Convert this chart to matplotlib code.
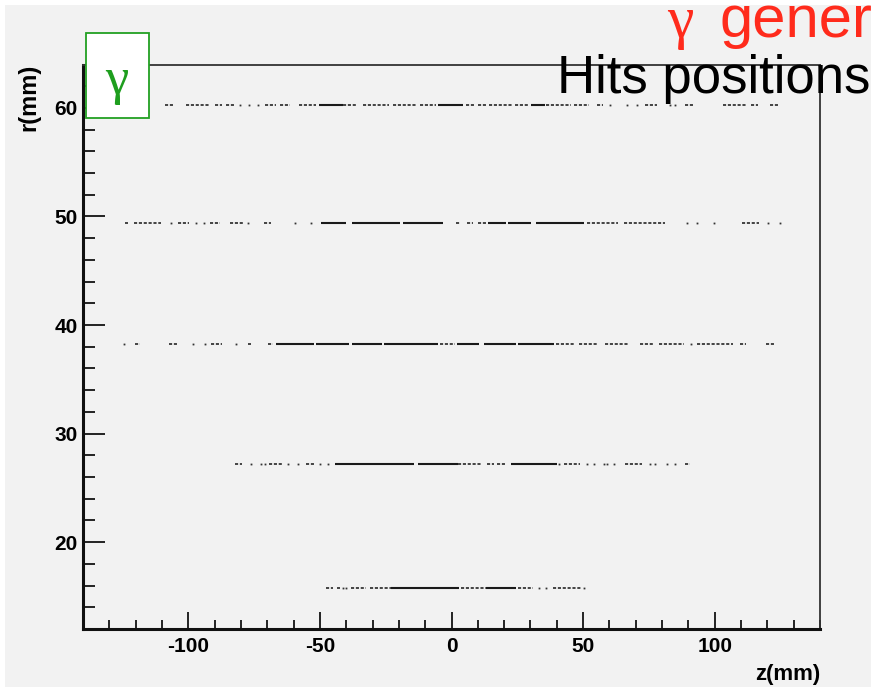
import numpy as np
import matplotlib
matplotlib.use("Agg")
import matplotlib.pyplot as plt
from matplotlib.patches import Rectangle
from matplotlib.ticker import MultipleLocator

plt.rcParams['font.family'] = ['Liberation Sans', 'DejaVu Sans']
plt.rcParams['axes.unicode_minus'] = False

# radius of each silicon layer (mm)
layer_r = [60.3, 49.4, 38.25, 27.2, 15.8]

# hits along z (mm): dense runs, sparse runs, single hits
layer1_dense = [(-50.5, -41.4), (-5.3, 4.5), (30.2, 35.5)]
layer1_sparse = [(-108.7, -105.9), (-100.8, -91.7), (-89.8, -87.1), (-85.6, -82.6),
                 (-71.0, -66.5), (-65.2, -61.4), (-58.1, -51.3), (-41.4, -36.0),
                 (-33.7, -23.9), (-22.3, -13.3), (-12.1, -5.7), (5.5, 8.9),
                 (10.2, 13.3), (14.4, 23.3), (24.2, 29.4), (36.0, 45.5),
                 (46.6, 52.3), (55.3, 57.6), (73.5, 78.0), (88.6, 91.7),
                 (103.2, 112.4), (113.9, 116.4), (121.0, 124.5)]
layer1_dots = [-80.3, -76.9, -73.5, 60.1, 66.7, 70.5, 83.0, 85.0]

layer2_dense = [(-49.4, -40.0), (-37.7, -19.7), (-18.6, -3.1), (14.0, 20.8),
                (21.6, 30.2), (32.2, 50.4)]
layer2_sparse = [(-124.1, -123.0), (-120.8, -110.2), (-103.8, -99.7), (-91.7, -88.0),
                 (-84.3, -79.4), (-71.3, -68.6), (1.7, 3.4), (5.7, 8.3),
                 (10.2, 13.1), (51.5, 63.4), (65.4, 81.3), (110.5, 117.0)]
layer2_dots = [-106.7, -97.0, -94.1, -77.5, -59.5, -53.4, 89.4, 93.2, 99.6, 120.3, 124.8]

layer3_dense = [(-66.5, -52.4), (-51.5, -39.0), (-37.9, -26.5), (-25.7, -16.3),
                (-16.3, -5.1), (1.9, 10.6), (12.4, 24.5), (25.4, 39.0)]
layer3_sparse = [(-120.4, -118.3), (-107.4, -104.2), (-91.3, -87.1), (-77.5, -76.3),
                 (-69.8, -67.8), (-4.3, 1.5), (39.6, 46.4), (48.5, 55.3),
                 (58.5, 67.4), (71.8, 77.1), (78.8, 88.4), (93.3, 107.1),
                 (109.5, 111.9), (119.5, 122.9)]
layer3_dots = [-124.4, -98.2, -93.7, -81.8, 90.9]

layer4_dense = [(-44.4, -14.1), (-12.9, 2.3), (22.5, 40.2)]
layer4_sparse = [(-82.1, -79.5), (-69.4, -64.0), (-55.2, -52.0), (2.3, 11.1),
                 (13.6, 16.2), (17.4, 20.6), (42.7, 49.0), (66.0, 72.3), (88.8, 90.6)]
layer4_dots = [-76.3, -72.2, -70.9, -62.1, -58.3, -50.1, -47.0, 40.8, 51.5, 54.0,
               57.8, 59.1, 61.6, 75.5, 77.4, 81.8, 85.0]

layer5_dense = [(-22.8, 3.0), (13.1, 24.5)]
layer5_sparse = [(-47.7, -45.0), (-43.4, -42.2), (-38.0, -32.3), (-31.1, -22.8),
                 (3.7, 13.1), (25.1, 30.8), (38.4, 49.7)]
layer5_dots = [-41.2, -39.9, 33.3, 35.9, 50.4]

dense = [layer1_dense, layer2_dense, layer3_dense, layer4_dense, layer5_dense]
sparse = [layer1_sparse, layer2_sparse, layer3_sparse, layer4_sparse, layer5_sparse]
dots = [layer1_dots, layer2_dots, layer3_dots, layer4_dots, layer5_dots]

W, H = 871, 691
bg = '#f2f2f2'

fig = plt.figure(figsize=(W / 100, H / 100), dpi=100)
fig.patch.set_facecolor('white')
fig.patches.append(Rectangle((5 / W, 4 / H), 1 - 5 / W, 1 - 9 / H,
                             transform=fig.transFigure, facecolor=bg,
                             edgecolor='none', zorder=-10))

ax = fig.add_axes([83 / W, 1 - 629 / H, (820 - 83) / W, (629 - 64.5) / H])
ax.set_facecolor(bg)

for r, dn, sp, dt in zip(layer_r, dense, sparse, dots):
    for z0, z1 in sp:
        ax.plot([z0, z1], [r, r], color='#444444', lw=1.4,
                linestyle=(0, (1.6, 0.9)), solid_capstyle='butt')
    for z0, z1 in dn:
        ax.plot([z0, z1], [r, r], color='#1a1a1a', lw=1.5, solid_capstyle='butt')
    ax.plot(dt, [r] * len(dt), 's', color='#333333', ms=1.3, mew=0)

ax.set_xlim(-140, 140)
ax.set_ylim(12, 64)
ax.xaxis.set_major_locator(MultipleLocator(50))
ax.xaxis.set_minor_locator(MultipleLocator(10))
ax.yaxis.set_major_locator(MultipleLocator(10))
ax.yaxis.set_minor_locator(MultipleLocator(2))

ax.tick_params(axis='x', which='major', direction='in', length=12, width=1.2,
               pad=6, labelsize=15)
ax.tick_params(axis='x', which='minor', direction='in', length=6.3, width=1.2)
ax.tick_params(axis='y', which='major', direction='in', length=16, width=1.2,
               pad=4, labelsize=15)
ax.tick_params(axis='y', which='minor', direction='in', length=8.6, width=1.2)
for lab in ax.get_xticklabels() + ax.get_yticklabels():
    lab.set_fontweight('bold')

for s in ['left', 'bottom']:
    ax.spines[s].set_linewidth(2.2)
    ax.spines[s].set_color('#111111')
for s in ['top', 'right']:
    ax.spines[s].set_linewidth(1.3)
    ax.spines[s].set_color('#333333')

fig.text(820 / W, 1 - 680 / H, 'z(mm)', ha='right', va='baseline',
         fontsize=16, fontweight='bold')
fig.text(29 / W, 1 - 64 / H, 'r(mm)', ha='center', va='top', rotation=90,
         fontsize=17, fontweight='bold')

# photon label box
fig.patches.append(Rectangle((86 / W, 1 - 118 / H), 63 / W, 85 / H,
                             transform=fig.transFigure, facecolor='white',
                             edgecolor='#22a022', lw=1.3, zorder=5))
fig.text(116.5 / W, 1 - 81 / H, 'γ', ha='center', va='center', fontsize=38,
         color='#1e9e1e', family=['Liberation Serif', 'DejaVu Serif'], zorder=6)

fig.text(667 / W, 1 - 37 / H, 'γ', ha='left', va='baseline', fontsize=43,
         color='#ff2b1c', family=['Liberation Serif', 'DejaVu Serif'])
fig.text(719 / W, 1 - 37 / H, 'generated', ha='left', va='baseline',
         fontsize=43, color='#ff2b1c')
fig.text(557 / W, 1 - 93 / H, 'Hits positions', ha='left', va='baseline',
         fontsize=38, color='black')

fig.savefig('out.png', dpi=100, facecolor=fig.get_facecolor())
